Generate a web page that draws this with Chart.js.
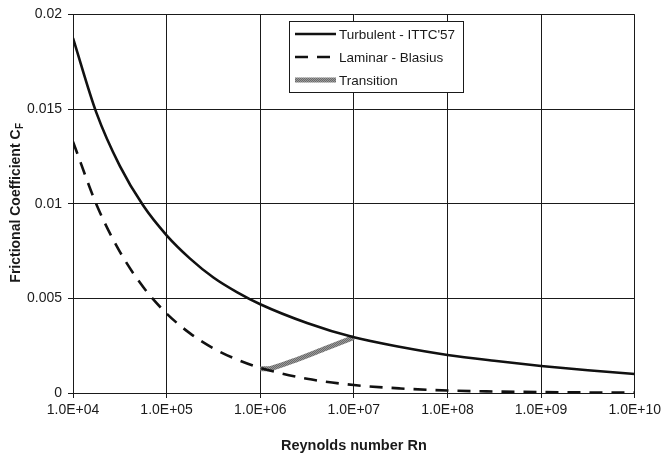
<!DOCTYPE html>
<html>
<head>
<meta charset="utf-8">
<script src="https://cdn.jsdelivr.net/npm/chart.js"></script>
<style>
  html, body { margin: 0; padding: 0; background: #fff; }
  canvas { display: block; }
</style>
</head>
<body>
<canvas id="chart" width="665" height="455"></canvas>
<script>
// Data
const reynolds = [1e4, 1.78e4, 3.16e4, 5.62e4, 1e5, 1.78e5, 3.16e5, 5.62e5, 1e6, 3.16e6, 1e7, 3.16e7, 1e8, 3.16e8, 1e9, 3.16e9, 1e10];
const turbulentCF = [0.01875, 0.0148, 0.0120, 0.0099, 0.00833, 0.0071, 0.0061, 0.00533, 0.00469, 0.00370, 0.00294, 0.00243, 0.00201, 0.00170, 0.00143, 0.00120, 0.00100];
const laminarCF = [0.01328, 0.00996, 0.00747, 0.0056, 0.0042, 0.00315, 0.00236, 0.00177, 0.00133, 0.00075, 0.00042, 0.00024, 0.00013, 0.00008, 0.00005, 0.00003, 0.00002];
const transitionRn = [1.0e6, 1.3e6, 2.5e6, 5e6, 1e7];
const transitionCF = [0.00128, 0.0013, 0.00178, 0.00236, 0.00294];
const xTicks = [1e4, 1e5, 1e6, 1e7, 1e8, 1e9, 1e10];
const yTicks = [0, 0.005, 0.01, 0.015, 0.02];
const seriesNames = ['Turbulent - ITTC\'57', 'Laminar - Blasius', 'Transition'];

const FONT = '"Liberation Sans", Arial, sans-serif';

// textured grey for the transition band
const patCanvas = document.createElement('canvas');
patCanvas.width = 2; patCanvas.height = 2;
const pctx = patCanvas.getContext('2d');
pctx.fillStyle = '#9a9a9a'; pctx.fillRect(0, 0, 2, 2);
pctx.fillStyle = '#6a6a6a'; pctx.fillRect(0, 0, 1, 1); pctx.fillRect(1, 1, 1, 1);
const transPattern = pctx.createPattern(patCanvas, 'repeat');

const toPoints = (xs, ys) => xs.map((x, i) => ({ x: x, y: ys[i] }));

// y title with subscript F
const yTitlePlugin = {
  id: 'yTitle',
  afterDraw(chart) {
    const ctx = chart.ctx;
    ctx.save();
    ctx.translate(16, 203);
    ctx.rotate(-Math.PI / 2);
    ctx.fillStyle = '#1a1a1a';
    ctx.textBaseline = 'middle';
    ctx.font = 'bold 14px ' + FONT;
    const main = 'Frictional Coefficient C';
    const w1 = ctx.measureText(main).width;
    ctx.font = 'bold 10px ' + FONT;
    const w2 = ctx.measureText('F').width;
    const start = -(w1 + w2) / 2;
    ctx.font = 'bold 14px ' + FONT;
    ctx.textAlign = 'left';
    ctx.fillText(main, start, 0);
    ctx.font = 'bold 10px ' + FONT;
    ctx.fillText('F', start + w1 + 0.5, 4);
    ctx.restore();
  }
};

// boxed legend sitting inside the plot
const legendPlugin = {
  id: 'boxLegend',
  afterDraw(chart) {
    const ctx = chart.ctx;
    const bx = 289, by = 21, bw = 174, bh = 71;
    ctx.save();
    ctx.fillStyle = '#fff';
    ctx.fillRect(bx, by, bw, bh);
    ctx.strokeStyle = '#1a1a1a';
    ctx.lineWidth = 1;
    ctx.strokeRect(bx + 0.5, by + 0.5, bw, bh);
    const rows = [34, 57, 80];
    chart.data.datasets.forEach((ds, i) => {
      const y = rows[i];
      ctx.beginPath();
      ctx.strokeStyle = ds.borderColor;
      ctx.lineWidth = ds.borderWidth;
      ctx.setLineDash(ds.borderDash || []);
      ctx.moveTo(295, y);
      ctx.lineTo(336, y);
      ctx.stroke();
      ctx.setLineDash([]);
      ctx.fillStyle = '#1a1a1a';
      ctx.font = '13.5px ' + FONT;
      ctx.textBaseline = 'middle';
      ctx.textAlign = 'left';
      ctx.fillText(ds.label, 339, y + 1);
    });
    ctx.restore();
  }
};

const formatE = (v) => {
  const exp = Math.round(Math.log10(v));
  return '1.0E+' + (exp < 10 ? '0' + exp : exp);
};

new Chart(document.getElementById('chart').getContext('2d'), {
  type: 'line',
  data: {
    datasets: [
      {
        label: seriesNames[0],
        data: toPoints(reynolds, turbulentCF),
        borderColor: '#111',
        borderWidth: 2.6,
        pointRadius: 0,
        cubicInterpolationMode: 'monotone',
        fill: false
      },
      {
        label: seriesNames[1],
        data: toPoints(reynolds, laminarCF),
        borderColor: '#111',
        borderWidth: 2.6,
        borderDash: [13, 9],
        pointRadius: 0,
        cubicInterpolationMode: 'monotone',
        fill: false
      },
      {
        label: seriesNames[2],
        data: toPoints(transitionRn, transitionCF),
        borderColor: transPattern,
        borderWidth: 5,
        pointRadius: 0,
        tension: 0.3,
        fill: false
      }
    ]
  },
  options: {
    responsive: false,
    animation: false,
    layout: { padding: { top: 10, right: 29, left: 0, bottom: 0 } },
    plugins: {
      legend: { display: false },
      tooltip: { enabled: false }
    },
    scales: {
      x: {
        type: 'logarithmic',
        min: 1e4,
        max: 1e10,
        afterBuildTicks: (scale) => { scale.ticks = xTicks.map(v => ({ value: v })); },
        afterFit: (scale) => { scale.height = 62; },
        border: { display: true, color: '#1a1a1a', width: 1 },
        grid: { color: '#1a1a1a', lineWidth: 1, tickLength: 5, drawTicks: true },
        ticks: {
          autoSkip: false,
          maxRotation: 0,
          padding: 4,
          color: '#1a1a1a',
          font: { family: FONT, size: 14 },
          callback: (v) => formatE(v)
        },
        title: {
          display: true,
          text: 'Reynolds number Rn',
          color: '#1a1a1a',
          font: { family: FONT, size: 14.5, weight: 'bold' },
          padding: { top: 12, bottom: 0 }
        }
      },
      y: {
        min: 0,
        max: 0.02,
        afterBuildTicks: (scale) => { scale.ticks = yTicks.map(v => ({ value: v })); },
        afterFit: (scale) => { scale.width = 73; },
        border: { display: true, color: '#1a1a1a', width: 1 },
        grid: { color: '#1a1a1a', lineWidth: 1, tickLength: 5, drawTicks: true },
        ticks: {
          padding: 6,
          color: '#1a1a1a',
          font: { family: FONT, size: 14 },
          callback: (v) => String(parseFloat(Number(v).toFixed(3)))
        }
      }
    }
  },
  plugins: [yTitlePlugin, legendPlugin]
});
</script>
</body>
</html>
